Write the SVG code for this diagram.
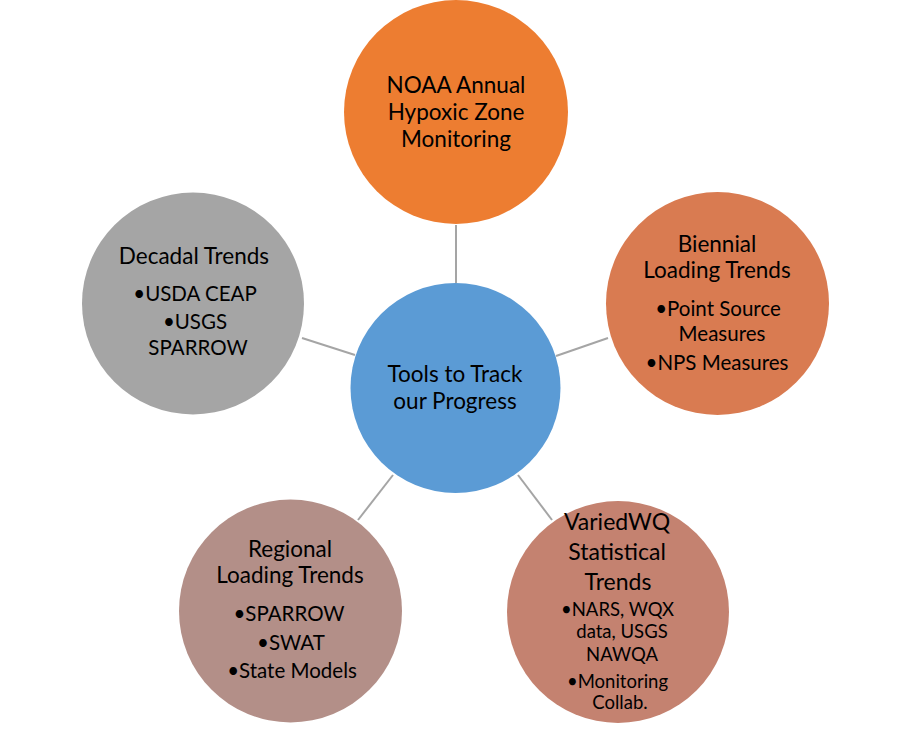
<svg xmlns="http://www.w3.org/2000/svg" width="911" height="729" viewBox="0 0 911 729">
<style>
text{font-family:Lato,"Open Sans","Liberation Sans",sans-serif;fill:#000;text-anchor:middle}
.t{font-size:22.5px}
.b{font-size:20.5px}
.t2{font-size:23px}
.b2{font-size:18.5px}
.c{stroke:#A5A5A5;stroke-width:2;fill:none}
</style>
<rect width="911" height="729" fill="#fff"/>
<g id="connectors">
<line class="c" x1="456" y1="225" x2="456" y2="283"/>
<line class="c" x1="556" y1="356" x2="608" y2="338"/>
<line class="c" x1="355" y1="355" x2="302" y2="338"/>
<line class="c" x1="393" y1="475" x2="358" y2="520"/>
<line class="c" x1="518" y1="475" x2="552" y2="520"/>
</g>
<g id="top">
<circle cx="456" cy="112" r="112" fill="#ED7D31"/>
<text class="t" x="456" y="93">NOAA Annual</text>
<text class="t" x="456" y="120">Hypoxic Zone</text>
<text class="t" x="456" y="147">Monitoring</text>
</g>
<g id="center">
<circle cx="455.5" cy="388" r="105" fill="#5B9BD5"/>
<text class="t" x="455" y="382">Tools to Track</text>
<text class="t" x="455" y="409">our Progress</text>
</g>
<g id="biennial">
<circle cx="717.5" cy="303.5" r="111.5" fill="#D97B51"/>
<text class="t" x="717" y="252">Biennial</text>
<text class="t" x="717" y="278">Loading Trends</text>
<text class="b" x="718" y="316">•Point Source</text>
<text class="b" x="722" y="341">Measures</text>
<text class="b" x="717" y="370">•NPS Measures</text>
</g>
<g id="decadal">
<circle cx="193" cy="303.5" r="111" fill="#A5A5A5"/>
<text class="t" x="194" y="264">Decadal Trends</text>
<text class="b" x="195" y="301">•USDA CEAP</text>
<text class="b" x="195" y="329">•USGS</text>
<text class="b" x="198" y="355">SPARROW</text>
</g>
<g id="varied">
<circle cx="618" cy="612" r="111" fill="#C48270"/>
<text class="t2" x="617" y="530">VariedWQ</text>
<text class="t2" x="617" y="560">Statistical</text>
<text class="t2" x="618" y="590">Trends</text>
<text class="b2" x="617.5" y="616">•NARS, WQX</text>
<text class="b2" x="622" y="638">data, USGS</text>
<text class="b2" x="622" y="661">NAWQA</text>
<text class="b2" x="617.5" y="688">•Monitoring</text>
<text class="b2" x="620" y="709">Collab.</text>
</g>
<g id="regional">
<circle cx="290.5" cy="611" r="111.5" fill="#B38F88"/>
<text class="t" x="290" y="557">Regional</text>
<text class="t" x="290" y="583">Loading Trends</text>
<text class="b" x="289" y="621">•SPARROW</text>
<text class="b" x="291" y="650">•SWAT</text>
<text class="b" x="292" y="678">•State Models</text>
</g>
</svg>
